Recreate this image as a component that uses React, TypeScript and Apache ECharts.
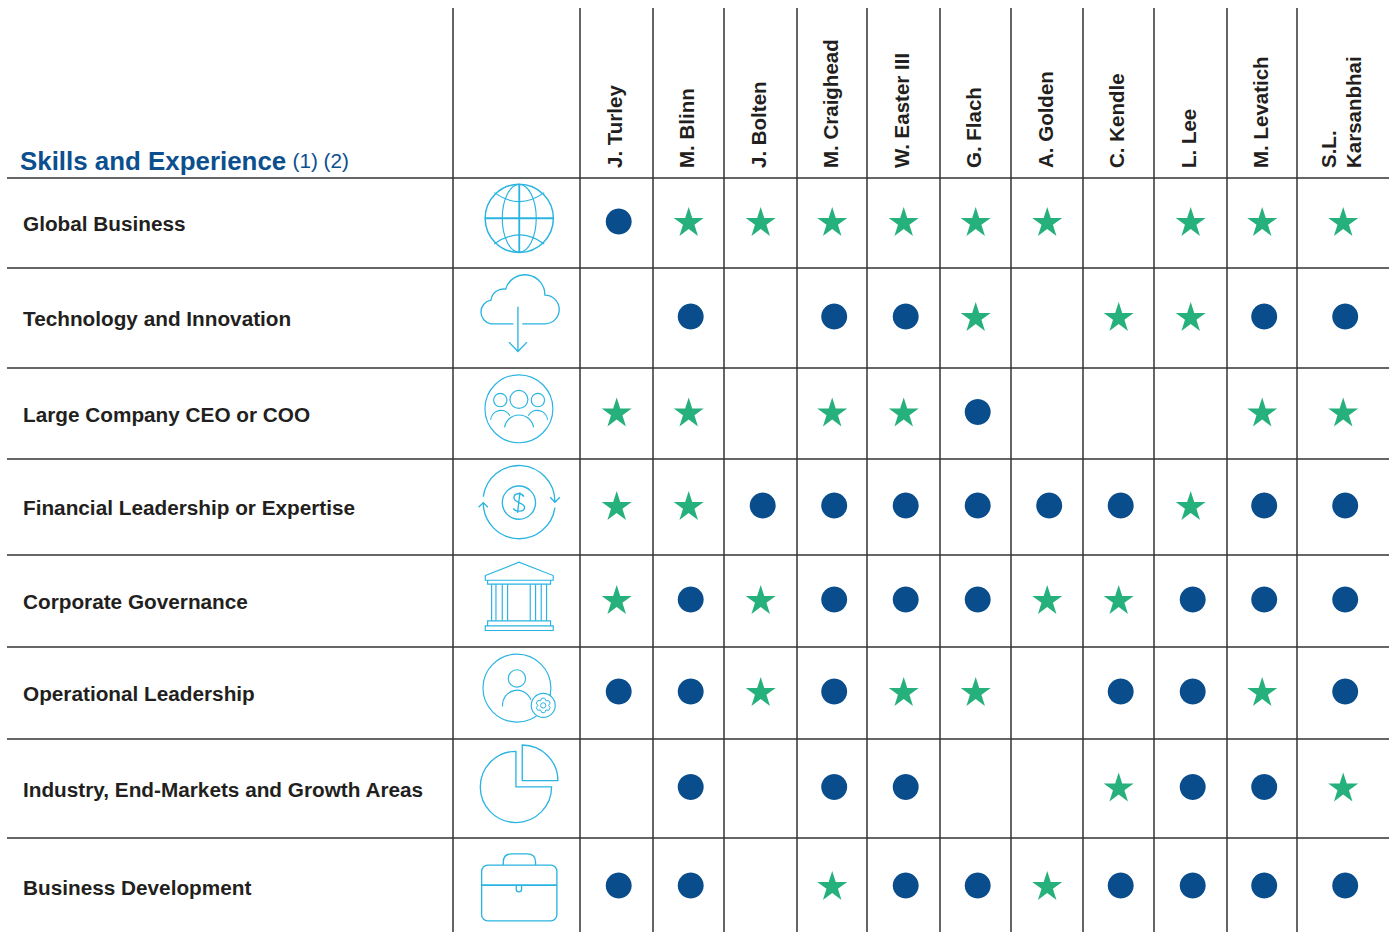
import React, { useEffect, useRef } from "react";
import * as echarts from "echarts";

const directors = ["J. Turley", "M. Blinn", "J. Bolten", "M. Craighead", "W. Easter III", "G. Flach", "A. Golden", "C. Kendle", "L. Lee", "M. Levatich", "S.L.\nKarsanbhai"];
const skills = ["Global Business", "Technology and Innovation", "Large Company CEO or COO", "Financial Leadership or Expertise", "Corporate Governance", "Operational Leadership", "Industry, End-Markets and Growth Areas", "Business Development"];

// d = dot, s = star, "" = no mark; one entry per director
const globalBusiness = ["d", "s", "s", "s", "s", "s", "s", "", "s", "s", "s"];
const technology = ["", "d", "", "d", "d", "s", "", "s", "s", "d", "d"];
const ceoCoo = ["s", "s", "", "s", "s", "d", "", "", "", "s", "s"];
const financial = ["s", "s", "d", "d", "d", "d", "d", "d", "s", "d", "d"];
const governance = ["s", "d", "s", "d", "d", "d", "s", "s", "d", "d", "d"];
const operational = ["d", "d", "s", "d", "s", "s", "", "d", "d", "s", "d"];
const industry = ["", "d", "", "d", "d", "", "", "s", "d", "d", "s"];
const bizDev = ["d", "d", "", "s", "d", "d", "s", "d", "d", "d", "d"];
const marks = [globalBusiness, technology, ceoCoo, financial, governance, operational, industry, bizDev];

const columnWidths = [73, 71, 73, 70, 73, 71, 72, 71, 73, 70, 92];
const rowHeights = [90, 100, 91, 96, 92, 92, 99, 98];

const STAR = "path://M50 0L61.8 36.2L100 36.2L69.1 58.6L80.9 95.1L50 72.7L19.1 95.1L30.9 58.6L0 36.2L38.2 36.2Z";
const FONT = '"Liberation Sans", Arial, sans-serif';
const INK = "#231f20";
const LINE = "#333333";
const CYAN = "#2ab4e2";
const NAVY = "#0c4f8f";

function gearPath(cx: number, cy: number) {
  let d = "";
  for (let k = 0; k < 6; k++) {
    const a = (Math.PI / 3) * k + Math.PI / 2;
    const pts = [[-0.52, 16], [-0.2, 22], [0.2, 22], [0.52, 16]];
    pts.forEach(([o, r], i) => {
      const x = cx + r * Math.cos(a + o);
      const y = cy + r * Math.sin(a + o);
      d += (k === 0 && i === 0 ? "M" : "L") + x.toFixed(1) + " " + y.toFixed(1);
    });
  }
  return d + "Z";
}
const circle = (cx: number, cy: number, r: number) => `M${cx - r} ${cy}a${r} ${r} 0 1 0 ${2 * r} 0a${r} ${r} 0 1 0 ${-2 * r} 0Z`;

// Each icon: origin of its sketch, then [path, width, fill?] layers
const icons: { o: [number, number]; p: [string, number, string?][] }[] = [
  { o: [229.5, 159], p: [
    [circle(238, 145, 102.5), 4.5],
    ["M135 145H340M238 43V247", 5.5],
    ["M187 145a51 102 0 1 0 102 0a51 102 0 1 0 -102 0ZM163 68Q238 122 313 68M163 222Q238 168 313 222", 3.5],
  ] },
  { o: [229.5, 444], p: [
    ["M220 462H153A36 36 0 0 1 153 391A38 38 0 0 1 197 358A60.2 60.2 0 0 1 315 376A43 43 0 0 1 315 462H247M234 411V545M207 517L234 545L261 517", 4],
  ] },
  { o: [229.5, 730.5], p: [
    [circle(237, 717, 102), 3.5],
    [circle(237, 689, 27) + circle(181, 691, 20) + circle(294, 691, 20), 3.5],
    ["M194 773A44 44 0 0 1 281 773M152 750A31 31 0 0 1 210 738M323 750A31 31 0 0 0 265 738", 3.5],
  ] },
  { o: [229.5, 156], p: [
    ["M130 125A108 108 0 0 1 345 140M331 127L345 142L360 127M345 158A108 108 0 0 1 130 145M116 157L130 143L144 157", 4],
    [circle(237, 143, 50), 4],
    ["M252 125C245 113 222 113 222 128C222 145 254 142 254 157C254 172 228 172 220 160M240 112L233 174", 4],
  ] },
  { o: [229.5, 438], p: [
    ["M136 362L237 322L340 362V376H136ZM143 376H332V388H143ZM143 498H332V513H143ZM136 513H340V527H136Z", 3.5],
    ["M155 388V498M168 388V498M187 388V498M203 388V498M271 388V498M287 388V498M304 388V498M320 388V498", 3.5],
  ] },
  { o: [229.5, 714], p: [
    [circle(231, 700, 102) + circle(231, 671, 26), 3.5],
    ["M188 755A44 44 0 0 1 273 735", 3.5],
    [circle(310, 752, 36), 3.5, "#fff"],
    [gearPath(310, 752) + circle(310, 752, 8), 3],
  ] },
  { o: [229.5, 160.5], p: [
    ["M228 49V156H335A107 107 0 1 1 228 49ZM247 30V137H354A107 107 0 0 0 247 30Z", 4],
  ] },
  { o: [229.5, 456], p: [
    ["M143 391H333A18 18 0 0 1 351 409V540A18 18 0 0 1 333 558H143A18 18 0 0 1 125 540V409A18 18 0 0 1 143 391ZM190 391V382Q190 357 215 357H262Q287 357 287 382V391M229 451V463A8 8 0 0 0 245 463V451", 4],
    ["M125 451H351", 5.5],
  ] },
];

function points(kind: string) {
  const out: number[][] = [];
  marks.forEach((row, r) => row.forEach((m, c) => { if (m === kind) out.push([c, r]); }));
  return out;
}
const noBorder = { borderWidth: 0, color: "none" };

export default function App() {
  const ref = useRef<HTMLDivElement>(null);
  useEffect(() => {
    const chart = echarts.init(ref.current!, null, { renderer: "svg" });
    chart.setOption({
      animation: false,
      graphic: [{
        type: "text", x: 20, y: 160.5, z: 10,
        style: {
          text: "{a|Skills and Experience} {b|(1) (2)}",
          verticalAlign: "middle",
          rich: {
            a: { fontFamily: FONT, fontSize: 25.9, fontWeight: "bold", fill: NAVY },
            b: { fontFamily: FONT, fontSize: 20.7, fill: NAVY, padding: [0, 0, 0, 3] },
          },
        },
      }],
      matrix: {
        left: 7, top: 8, width: 1382, height: 928,
        backgroundStyle: noBorder,
        x: {
          levels: [{ levelSize: 170 }],
          itemStyle: noBorder,
          dividerLineStyle: { width: 0 },
          label: { show: false },
          data: directors.map((d, i) => ({ value: d, size: columnWidths[i] })),
        },
        y: {
          levels: [{ levelSize: 446 }, { levelSize: 127 }],
          itemStyle: noBorder,
          dividerLineStyle: { width: 0 },
          label: { show: false },
          data: skills.map((s, i) => ({ value: s, children: [{ value: s + " icon", size: rowHeights[i] }] })),
        },
        body: { itemStyle: noBorder },
        corner: { itemStyle: noBorder },
      },
      series: [
        {
          type: "custom", coordinateSystem: "matrix", silent: true, z: 1,
          data: skills.map((_, i) => [0, i]),
          renderItem: (params: any, api: any) => {
            const cs = params.coordSys;
            const r = api.layout([0, params.dataIndex]).rect;
            return {
              type: "group",
              children: [
                { type: "line", shape: { x1: cs.x, y1: r.y, x2: cs.x + cs.width, y2: r.y }, style: { stroke: LINE, lineWidth: 1.5 } },
                {
                  type: "text", x: cs.x + 16, y: r.y + r.height / 2 + 0.8,
                  style: { text: skills[params.dataIndex], align: "left", verticalAlign: "middle", fontFamily: FONT, fontSize: 20.75, fontWeight: "bold", fill: INK },
                },
              ],
            };
          },
        },
        {
          type: "custom", coordinateSystem: "matrix", silent: true, z: 1,
          data: directors.map((_, i) => [i, 0]),
          renderItem: (params: any, api: any) => {
            const cs = params.coordSys;
            const r = api.layout([params.dataIndex, 0]).rect;
            return {
              type: "group",
              children: [
                { type: "line", shape: { x1: r.x, y1: cs.y, x2: r.x, y2: cs.y + cs.height }, style: { stroke: LINE, lineWidth: 1.5 } },
                {
                  type: "text", x: r.x + r.width / 2 - 2, y: r.y - 10, rotation: Math.PI / 2,
                  style: { text: directors[params.dataIndex], align: "left", verticalAlign: "middle", lineHeight: 25, fontFamily: FONT, fontSize: 20.5, fontWeight: "bold", fill: INK },
                },
              ],
            };
          },
        },
        {
          type: "custom", coordinateSystem: "matrix", silent: true, z: 2,
          data: skills.map((_, i) => [-1, i]),
          renderItem: (params: any, api: any) => {
            const r = api.layout([-1, params.dataIndex]).rect;
            const icon = icons[params.dataIndex];
            return {
              type: "group",
              x: r.x + r.width / 2 - icon.o[0] / 3,
              y: r.y + r.height / 2 - icon.o[1] / 3,
              scaleX: 1 / 3, scaleY: 1 / 3,
              children: icon.p.map(([d, w, fill]) => ({
                type: "path", shape: { pathData: d },
                style: { stroke: CYAN, lineWidth: w, fill: fill || "none" },
              })),
            };
          },
        },
        {
          type: "custom", coordinateSystem: "matrix", silent: true, z: 1,
          data: [[-1, 0]],
          renderItem: (params: any, api: any) => {
            const cs = params.coordSys;
            const r = api.layout([-1, 0]).rect;
            return { type: "line", shape: { x1: r.x, y1: cs.y, x2: r.x, y2: cs.y + cs.height }, style: { stroke: LINE, lineWidth: 1.5 } };
          },
        },
        {
          name: "Dot", type: "scatter", coordinateSystem: "matrix", z: 3, symbol: "circle", symbolSize: 26,
          symbolOffset: [2.2, -1.6], itemStyle: { color: "#0a4d8c", opacity: 1 }, data: points("d"),
        },
        {
          name: "Star", type: "scatter", coordinateSystem: "matrix", z: 3, symbol: STAR, symbolSize: [30, 29],
          symbolKeepAspect: false, symbolOffset: [0.2, -1.6], itemStyle: { color: "#26b07b", opacity: 1 }, data: points("s"),
        },
      ],
    });
    return () => chart.dispose();
  }, []);
  return <div ref={ref} style={{ width: 1393, height: 932, position: "absolute", left: 0, top: 0 }} />;
}
